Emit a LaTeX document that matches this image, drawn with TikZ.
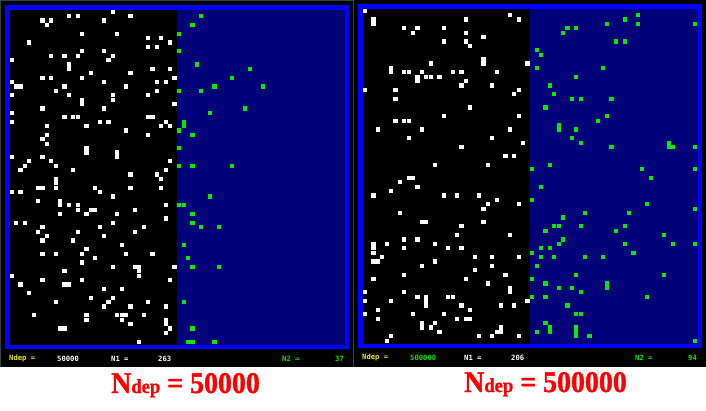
\documentclass[tikz,border=0pt]{standalone}
\usepackage{fontspec}
\usepackage{graphicx}
\newfontfamily\monofnt{DejaVu Sans Mono}[BoldFont={DejaVu Sans Mono Bold}]
\newfontfamily\capfnt{Liberation Serif Bold}[FakeBold=1.2]
\definecolor{scrblue}{RGB}{0,0,255}
\definecolor{scrnavy}{RGB}{0,0,120}
\definecolor{scrgreen}{RGB}{0,235,0}
\definecolor{scryellow}{RGB}{235,235,0}
\definecolor{scrgrey}{RGB}{45,70,70}
\definecolor{capred}{RGB}{255,0,0}
\tikzset{
  stat/.style={font=\monofnt\bfseries\fontsize{7.2}{8}\selectfont, anchor=west, inner sep=0pt},
  capline/.style={font=\capfnt\fontsize{30}{32}\selectfont, text=capred, anchor=base west, inner sep=0pt},
  atom/.style={fill=white},
  tracer/.style={fill=scrgreen}
}

\begin{document}
\begin{tikzpicture}[x=1pt,y=-1pt]
  \useasboundingbox[fill=white] (0,0) rectangle (706,410);
  \fill (0,0) rectangle (706,367);
  \draw[scrgrey] (0.5,367) -- (0.5,0.5) -- (352.5,0.5);
  \draw[scrgrey] (353,0) -- (353,367);
  \pgfmathsetseed{4711}
  \foreach \p/\ox/\dy/\nd/\ndc/\na/\nb/\wa/\len in {a/0/0/50000/white/263/37/185/6, b/353/-1/500000/scrgreen/206/94/145/14}{
    \begin{scope}[shift={(\ox,\dy)}]
      \fill[scrblue] (5,5) rectangle (349,349);
      \fill[black] (9.5,9.5) rectangle (177,344.5);
      \fill[scrnavy] (177,9.5) rectangle (344.5,344.5);
      \foreach \i in {1,...,\wa}{
        \pgfmathrandominteger{\cx}{0}{37}
        \pgfmathrandominteger{\cy}{0}{75}
        \fill[atom] ({9.5+4.4*\cx},{9.6+4.4*\cy}) rectangle ++(4.2,4.2);}
      \foreach \i in {1,...,\nb}{
        \pgfmathsetmacro\cx{min(37,int(-\len*ln(0.001+0.999*rnd)))}
        \pgfmathrandominteger{\cy}{0}{75}
        \fill[tracer] ({177.2+4.4*\cx},{9.6+4.4*\cy}) rectangle ++(4.2,4.2);}
      \node[stat, text=scryellow] (ndep-\p) at (9,359) {Ndep =};
      \node[stat, text=\ndc] (ndepval-\p) at (57,359) {\nd};
      \node[stat, text=white] (none-\p) at (111,359) {N1 =};
      \node[stat, text=white] (noneval-\p) at (158,359) {\na};
      \node[stat, text=scrgreen] (ntwo-\p) at (282,359) {N2 =};
      \node[stat, text=scrgreen] (ntwoval-\p) at (335,359) {\nb};
      \node[capline] (cap-\p) at (111,393) {\scalebox{0.93}[1]{N{\fontsize{20}{22}\selectfont dep} = \nd}};
    \end{scope}
  }
\end{tikzpicture}
\end{document}
